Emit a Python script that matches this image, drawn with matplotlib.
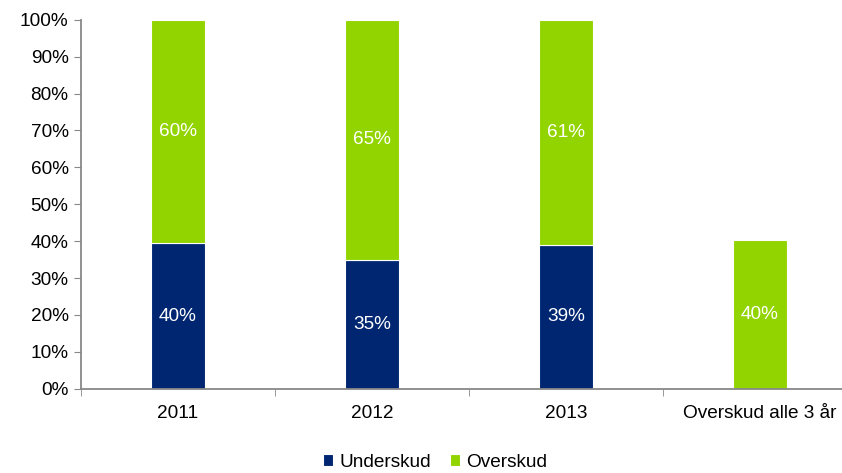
import matplotlib
matplotlib.use("Agg")
import matplotlib.pyplot as plt
from matplotlib.ticker import FuncFormatter

plt.rcParams["font.family"] = ["Liberation Sans", "DejaVu Sans"]

NAVY = "#002672"
GREEN = "#92d400"
AXIS = "#888888"
FS = 13.7

categories = ["2011", "2012", "2013", "Overskud alle 3 år"]
underskud = [39.4, 35.0, 38.9, 0.0]
overskud = [60.6, 65.0, 61.1, 40.2]
under_labels = ["40%", "35%", "39%", ""]
over_labels = ["60%", "65%", "61%", "40%"]

fig = plt.figure(figsize=(8.42, 4.73), dpi=100)
ax = fig.add_axes([81 / 842, 84.3 / 473, 776 / 842, 369 / 473])

x = list(range(len(categories)))
w = 0.28
b1 = ax.bar(x, underskud, w, color=NAVY, edgecolor="white", linewidth=0.8, label="Underskud")
b2 = ax.bar(x, overskud, w, bottom=underskud, color=GREEN, edgecolor="white", linewidth=0.8,
            label="Overskud")

for i in x:
    if under_labels[i]:
        ax.text(i, underskud[i] / 2, under_labels[i], color="white", fontsize=FS,
                ha="center", va="center")
    ax.text(i, underskud[i] + overskud[i] / 2 if i < 3 else overskud[i] / 2, over_labels[i],
            color="white", fontsize=FS, ha="center", va="center")

ax.set_xlim(-0.5, len(categories) - 0.5)
ax.set_ylim(0, 100)
ax.set_yticks(range(0, 101, 10))
ax.yaxis.set_major_formatter(FuncFormatter(lambda v, p: f"{v:.0f}%"))
ax.set_xticks(x)
ax.set_xticklabels(categories)
ax.set_xticks([i + 0.5 for i in range(-1, len(categories))], minor=True)
ax.tick_params(axis="x", which="major", length=0, labelsize=FS, pad=12)
ax.tick_params(axis="x", which="minor", length=5, color=AXIS, direction="out")
ax.tick_params(axis="y", length=5, color=AXIS, labelsize=FS, pad=4)

for s in ("top", "right"):
    ax.spines[s].set_visible(False)
for s in ("left", "bottom"):
    ax.spines[s].set_color(AXIS)
    ax.spines[s].set_linewidth(1.3)

fig.legend(handles=[b1, b2], loc="center", bbox_to_anchor=(435 / 842, 1 - 462 / 473), ncol=2,
           frameon=False, fontsize=FS, handlelength=0.55, handleheight=0.55, handletextpad=0.3,
           columnspacing=1.0)

fig.savefig("out.png", dpi=100, facecolor="white")
